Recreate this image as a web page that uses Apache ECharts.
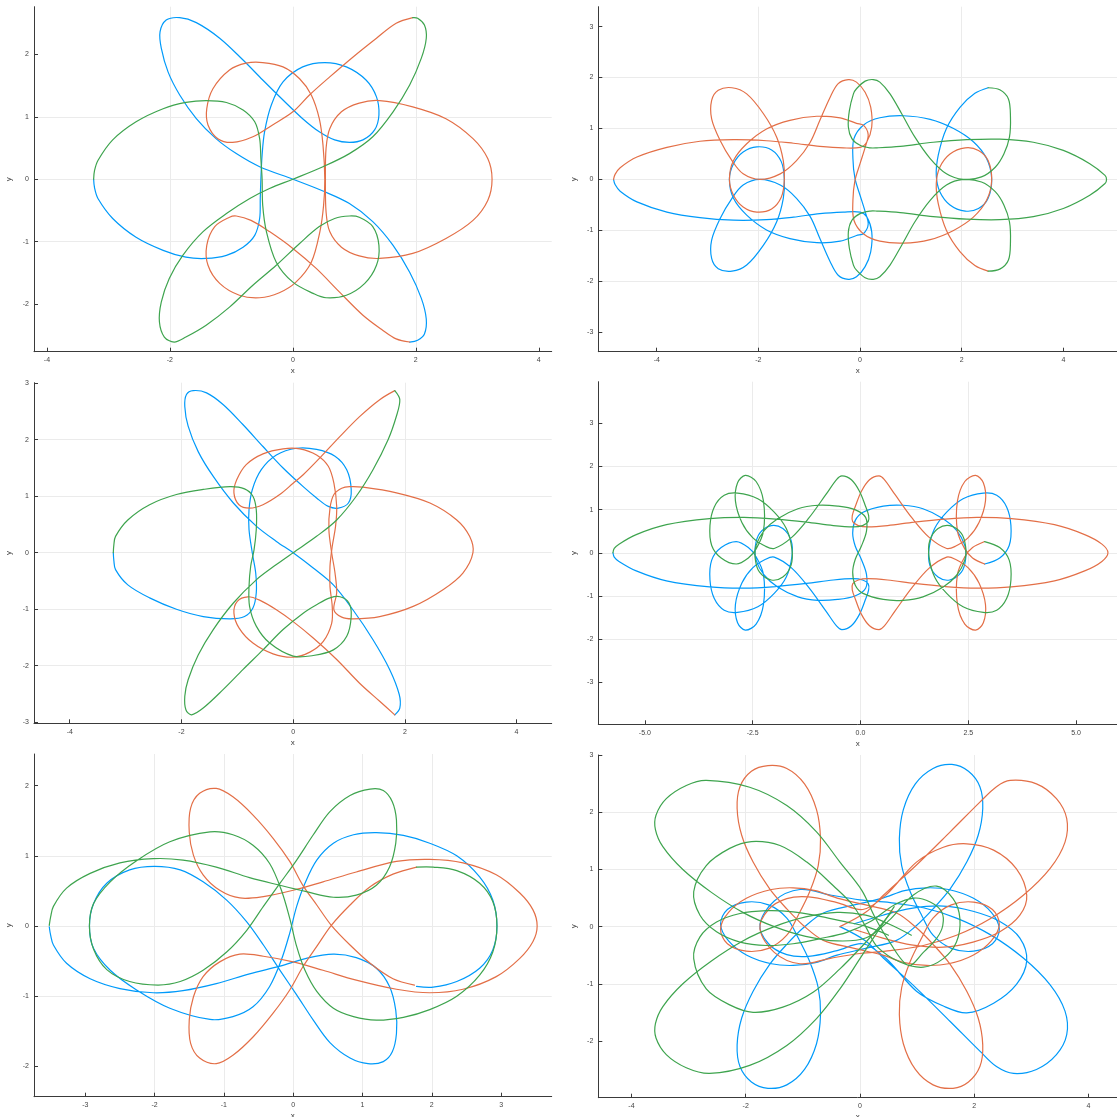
<!DOCTYPE html>
<html>
<head>
<meta charset="utf-8">
<title>Three-body orbits</title>
<script src="https://cdn.jsdelivr.net/npm/echarts@6/dist/echarts.min.js"></script>
<style>
  html, body { margin: 0; padding: 0; background: #ffffff; }
  #chart { width: 1117px; height: 1117px; }
</style>
</head>
<body>
<div id="chart"></div>
<script>
// ---------- orbit samples (x, y) per body, panel by panel ----------

// Panel 1
const p1Blue = [[-3.24,0],[-3.225,-0.14],[-3.17,-0.31],[-2.93,-0.63],[-2.55,-0.93],[-2.11,-1.14],[-1.74,-1.25],[-1.41,-1.27],[-1.08,-1.22],[-0.81,-1.09],[-0.62,-0.9],[-0.54,-0.63],[-0.53,-0.31],[-0.52,0],[-0.5,0.39],[-0.46,0.76],[-0.35,1.19],[-0.16,1.56],[0.16,1.8],[0.52,1.87],[0.87,1.8],[1.19,1.59],[1.36,1.32],[1.4,1.03],[1.33,0.79],[1.14,0.63],[0.92,0.59],[0.68,0.63],[0.43,0.76],[0.16,0.97],[-0.16,1.27],[-0.49,1.59],[-0.81,1.91],[-1.19,2.26],[-1.57,2.51],[-1.84,2.59],[-2.06,2.55],[-2.16,2.36],[-2.14,2.1],[-2.03,1.72],[-1.84,1.35],[-1.57,0.97],[-1.25,0.65],[-0.92,0.41],[-0.54,0.2],[0,0],[0.49,-0.19],[0.92,-0.39],[1.3,-0.68],[1.63,-1.06],[1.9,-1.49],[2.09,-1.91],[2.17,-2.24],[2.14,-2.48],[2.03,-2.58],[1.9,-2.61]];
const p1Red = [[1.95,2.59],[1.68,2.5],[1.36,2.26],[0.98,1.96],[0.6,1.64],[0.27,1.35],[0,1.08],[-0.33,0.87],[-0.65,0.68],[-0.98,0.59],[-1.22,0.65],[-1.38,0.87],[-1.4,1.13],[-1.3,1.45],[-1.03,1.75],[-0.76,1.86],[-0.49,1.87],[-0.16,1.8],[0.11,1.61],[0.3,1.35],[0.43,0.97],[0.49,0.55],[0.52,0],[0.5,-0.42],[0.44,-0.84],[0.3,-1.33],[0.05,-1.65],[-0.22,-1.82],[-0.54,-1.9],[-0.87,-1.86],[-1.19,-1.67],[-1.38,-1.38],[-1.4,-1.06],[-1.27,-0.76],[-1.03,-0.61],[-0.92,-0.59],[-0.68,-0.66],[-0.38,-0.84],[0,-1.11],[0.38,-1.43],[0.76,-1.81],[1.14,-2.18],[1.46,-2.42],[1.68,-2.56],[1.9,-2.61]];
const p1RedLobe = [[1.41,1.26],[1.95,1.16],[2.49,0.97],[2.93,0.65],[3.17,0.33],[3.24,0],[3.17,-0.34],[2.93,-0.66],[2.49,-0.95],[1.95,-1.19],[1.41,-1.27],[1.08,-1.23],[0.79,-1.09],[0.6,-0.84],[0.54,-0.52],[0.53,0],[0.54,0.49],[0.6,0.81],[0.79,1.08],[1.08,1.22],[1.41,1.26]];
const p1Green = [[-3.24,0],[-3.225,0.14],[-3.17,0.3],[-2.93,0.63],[-2.55,0.92],[-2.11,1.13],[-1.74,1.23],[-1.41,1.26],[-1.08,1.23],[-0.81,1.11],[-0.62,0.92],[-0.54,0.65],[-0.52,0.33],[-0.5,0],[-0.49,-0.42],[-0.43,-0.84],[-0.27,-1.33],[0,-1.65],[0.33,-1.83],[0.54,-1.9],[0.87,-1.86],[1.17,-1.67],[1.36,-1.38],[1.4,-1.06],[1.3,-0.76],[1.08,-0.61],[0.92,-0.59],[0.68,-0.63],[0.43,-0.76],[0.11,-1.03],[-0.27,-1.38],[-0.65,-1.7],[-1.03,-2.05],[-1.41,-2.34],[-1.74,-2.53],[-1.93,-2.61],[-2.09,-2.53],[-2.17,-2.29],[-2.14,-1.97],[-2.01,-1.59],[-1.79,-1.22],[-1.46,-0.84],[-1.08,-0.55],[-0.7,-0.31],[-0.38,-0.15],[0,0],[0.49,0.2],[0.92,0.41],[1.3,0.68],[1.63,1.08],[1.9,1.51],[2.09,1.94],[2.17,2.26],[2.14,2.47],[2.03,2.58],[1.95,2.59]];

// Panel 2
const p2Red = [[-4.85,0],[-4.82,0.1],[-4.72,0.23],[-4.39,0.44],[-3.8,0.63],[-3.15,0.75],[-2.49,0.78],[-1.84,0.76],[-1.31,0.71],[-0.79,0.65],[-0.33,0.62],[0,0.63],[0.13,0.73],[0.23,1.03],[0.21,1.42],[0.1,1.71],[-0.07,1.91],[-0.23,1.96],[-0.43,1.88],[-0.59,1.61],[-0.79,1.16],[-0.98,0.73],[-1.25,0.37],[-1.57,0.11],[-1.97,0],[-2.3,0.11],[-2.52,0.37],[-2.75,0.76],[-2.92,1.19],[-2.92,1.55],[-2.79,1.75],[-2.52,1.8],[-2.23,1.68],[-1.9,1.29],[-1.64,0.83],[-1.51,0.37],[-1.49,-0.02],[-1.55,-0.35],[-1.74,-0.58],[-2.03,-0.64],[-2.3,-0.54],[-2.49,-0.31],[-2.57,0],[-2.49,0.37],[-2.23,0.7],[-1.84,0.99],[-1.38,1.16],[-0.85,1.24],[-0.39,1.21],[-0.07,1.1],[0.07,1.06],[0.16,0.88],[0.1,0.63],[0,0.31],[-0.1,-0.02],[-0.14,-0.41],[-0.12,-0.8],[0.07,-1.07],[0.39,-1.21],[0.85,-1.25],[1.38,-1.18],[1.84,-1.0],[2.23,-0.74],[2.49,-0.41],[2.59,-0.02],[2.52,0.37],[2.33,0.57],[2.07,0.62],[1.77,0.5],[1.57,0.24],[1.5,-0.08],[1.54,-0.48],[1.7,-1.0],[1.97,-1.42],[2.26,-1.69],[2.52,-1.8]];
const p2Blue = [[-4.85,0],[-4.82,-0.1],[-4.72,-0.23],[-4.39,-0.44],[-3.8,-0.64],[-3.15,-0.75],[-2.49,-0.8],[-1.84,-0.79],[-1.31,-0.74],[-0.79,-0.67],[-0.33,-0.64],[0,-0.64],[0.13,-0.73],[0.23,-1.03],[0.21,-1.42],[0.1,-1.71],[-0.07,-1.91],[-0.23,-1.96],[-0.43,-1.88],[-0.59,-1.61],[-0.79,-1.16],[-0.98,-0.73],[-1.25,-0.37],[-1.57,-0.11],[-1.97,0],[-2.3,-0.11],[-2.52,-0.37],[-2.75,-0.76],[-2.92,-1.19],[-2.92,-1.55],[-2.79,-1.75],[-2.52,-1.8],[-2.23,-1.68],[-1.9,-1.29],[-1.64,-0.83],[-1.51,-0.37],[-1.49,0.02],[-1.55,0.35],[-1.74,0.58],[-2.03,0.64],[-2.3,0.54],[-2.49,0.31],[-2.57,0],[-2.49,-0.37],[-2.23,-0.7],[-1.84,-0.99],[-1.38,-1.16],[-0.85,-1.24],[-0.39,-1.21],[-0.07,-1.1],[0.07,-1.06],[0.16,-0.88],[0.1,-0.63],[0,-0.31],[-0.1,0.02],[-0.14,0.41],[-0.12,0.8],[0.07,1.07],[0.39,1.21],[0.85,1.25],[1.38,1.18],[1.84,1.0],[2.23,0.74],[2.49,0.41],[2.59,0.02],[2.52,-0.37],[2.33,-0.57],[2.07,-0.62],[1.77,-0.5],[1.57,-0.24],[1.5,0.08],[1.54,0.48],[1.7,1.0],[1.97,1.42],[2.26,1.69],[2.52,1.8]];
const p2Green = [[2.52,1.8],[2.75,1.76],[2.92,1.58],[2.96,1.22],[2.94,0.83],[2.83,0.5],[2.66,0.24],[2.39,0.05],[2.03,0],[1.7,0.11],[1.38,0.41],[1.08,0.83],[0.82,1.29],[0.59,1.68],[0.39,1.91],[0.26,1.96],[0.1,1.93],[-0.07,1.78],[-0.13,1.68],[-0.21,1.35],[-0.23,1.03],[-0.16,0.8],[0,0.67],[0.2,0.62],[0.33,0.62],[0.79,0.65],[1.44,0.73],[2.1,0.78],[2.75,0.79],[3.41,0.73],[4.0,0.57],[4.52,0.31],[4.82,0.08],[4.85,0],[4.82,-0.08],[4.52,-0.31],[4.0,-0.57],[3.41,-0.73],[2.75,-0.79],[2.1,-0.78],[1.44,-0.73],[0.79,-0.65],[0.33,-0.62],[0.2,-0.62],[0,-0.67],[-0.16,-0.8],[-0.23,-1.03],[-0.21,-1.35],[-0.13,-1.68],[-0.07,-1.78],[0.1,-1.93],[0.26,-1.96],[0.39,-1.91],[0.59,-1.68],[0.82,-1.29],[1.08,-0.83],[1.38,-0.41],[1.7,-0.11],[2.03,0],[2.39,-0.05],[2.66,-0.24],[2.83,-0.5],[2.94,-0.83],[2.96,-1.22],[2.92,-1.58],[2.75,-1.76],[2.52,-1.8]];

// Panel 3
const p3Blue = [[-3.22,0],[-3.21,-0.14],[-3.18,-0.3],[-2.96,-0.57],[-2.57,-0.8],[-2.09,-1.0],[-1.61,-1.13],[-1.13,-1.17],[-0.87,-1.13],[-0.72,-0.98],[-0.66,-0.71],[-0.67,-0.36],[-0.73,-0.01],[-0.79,0.41],[-0.79,0.76],[-0.73,1.12],[-0.57,1.47],[-0.3,1.73],[0.06,1.85],[0.42,1.83],[0.75,1.71],[0.96,1.47],[1.04,1.12],[0.99,0.88],[0.81,0.79],[0.63,0.82],[0.42,0.97],[0.18,1.17],[-0.18,1.5],[-0.54,1.88],[-0.9,2.27],[-1.25,2.62],[-1.55,2.83],[-1.79,2.87],[-1.91,2.8],[-1.94,2.59],[-1.88,2.24],[-1.7,1.79],[-1.43,1.35],[-1.07,0.88],[-0.66,0.47],[-0.3,0.2],[0,0],[0.36,-0.27],[0.72,-0.57],[1.07,-1.01],[1.43,-1.54],[1.73,-2.07],[1.9,-2.51],[1.91,-2.75],[1.82,-2.87]];
const p3Red = [[1.82,2.87],[1.55,2.71],[1.19,2.41],[0.84,2.06],[0.48,1.68],[0.18,1.38],[0,1.23],[-0.24,1.03],[-0.54,0.85],[-0.78,0.79],[-0.97,0.85],[-1.06,1.06],[-1.01,1.29],[-0.84,1.56],[-0.54,1.75],[-0.18,1.84],[0.12,1.84],[0.42,1.73],[0.63,1.53],[0.73,1.23],[0.78,0.82],[0.76,0.47],[0.7,0.11],[0.66,-0.24],[0.66,-0.6],[0.7,-0.95],[0.69,-1.25],[0.54,-1.57],[0.3,-1.76],[0,-1.85],[-0.36,-1.79],[-0.72,-1.6],[-0.97,-1.33],[-1.06,-1.07],[-1.0,-0.86],[-0.81,-0.78],[-0.6,-0.84],[-0.3,-1.01],[0,-1.22],[0.36,-1.51],[0.78,-1.89],[1.19,-2.31],[1.55,-2.63],[1.82,-2.87]];
const p3RedLobe = [[3.22,0],[3.16,0.29],[2.93,0.58],[2.45,0.88],[1.85,1.06],[1.25,1.16],[1.01,1.17],[0.87,1.14],[0.73,1.03],[0.66,0.79],[0.64,0.41],[0.69,0],[0.75,-0.36],[0.78,-0.71],[0.73,-1.01],[0.87,-1.14],[1.07,-1.17],[1.55,-1.13],[2.15,-0.95],[2.69,-0.65],[3.04,-0.36],[3.22,0]];
const p3Green = [[-3.22,0],[-3.21,0.14],[-3.18,0.29],[-2.96,0.58],[-2.57,0.85],[-2.09,1.03],[-1.61,1.12],[-1.13,1.17],[-0.87,1.13],[-0.72,1.0],[-0.66,0.76],[-0.66,0.41],[-0.7,0.05],[-0.76,-0.24],[-0.79,-0.6],[-0.78,-0.95],[-0.66,-1.3],[-0.42,-1.6],[0,-1.83],[0.36,-1.82],[0.72,-1.72],[0.96,-1.48],[1.04,-1.13],[1.0,-0.89],[0.84,-0.78],[0.66,-0.8],[0.42,-0.92],[0.18,-1.07],[-0.18,-1.36],[-0.54,-1.72],[-0.9,-2.07],[-1.25,-2.42],[-1.61,-2.75],[-1.82,-2.87],[-1.92,-2.78],[-1.94,-2.54],[-1.88,-2.25],[-1.7,-1.81],[-1.43,-1.36],[-1.07,-0.89],[-0.66,-0.48],[-0.3,-0.21],[0,0],[0.42,0.29],[0.78,0.58],[1.13,1.0],[1.43,1.47],[1.7,2.0],[1.85,2.42],[1.91,2.71],[1.82,2.87]];

// Panel 4
const p4Blue = [[-5.74,0],[-5.71,-0.1],[-5.6,-0.2],[-5.2,-0.42],[-4.5,-0.65],[-3.5,-0.79],[-2.7,-0.82],[-1.95,-0.78],[-1.25,-0.71],[-0.63,-0.63],[-0.17,-0.6],[0.05,-0.63],[0.18,-0.72],[0.19,-0.86],[0.12,-1.07],[-0.02,-1.42],[-0.21,-1.69],[-0.43,-1.78],[-0.55,-1.7],[-0.8,-1.35],[-1.2,-0.8],[-1.6,-0.35],[-2.0,-0.1],[-2.2,-0.15],[-2.5,-0.35],[-2.75,-0.7],[-2.9,-1.2],[-2.85,-1.62],[-2.67,-1.79],[-2.42,-1.65],[-2.25,-1.2],[-2.25,-0.5],[-2.42,-0.09],[-2.6,0.12],[-2.88,0.26],[-3.23,0.12],[-3.45,-0.17],[-3.49,-0.63],[-3.39,-1.06],[-3.16,-1.33],[-2.85,-1.38],[-2.38,-1.25],[-2.0,-0.94],[-1.72,-0.56],[-1.59,-0.09],[-1.61,0.29],[-1.8,0.56],[-2.07,0.63],[-2.34,0.45],[-2.44,0.14],[-2.42,-0.17],[-2.23,-0.52],[-1.92,-0.79],[-1.45,-1.02],[-0.99,-1.1],[-0.53,-1.08],[-0.13,-1.0],[0.12,-0.82],[0.14,-0.5],[0.02,-0.15],[-0.12,0.15],[-0.18,0.45],[-0.12,0.75],[0.06,0.94],[0.53,1.08],[0.99,1.1],[1.45,1.02],[1.92,0.79],[2.23,0.52],[2.42,0.17],[2.44,-0.14],[2.34,-0.45],[2.07,-0.63],[1.8,-0.56],[1.61,-0.29],[1.59,0.09],[1.72,0.56],[2.0,0.94],[2.38,1.25],[2.85,1.38],[3.16,1.33],[3.39,1.06],[3.49,0.63],[3.45,0.17],[3.23,-0.12],[2.88,-0.26]];
const p4Red = [[2.88,-0.26],[2.6,-0.12],[2.42,0.09],[2.25,0.5],[2.25,1.2],[2.42,1.65],[2.67,1.79],[2.85,1.62],[2.9,1.2],[2.75,0.7],[2.5,0.35],[2.2,0.15],[2.0,0.1],[1.6,0.35],[1.2,0.8],[0.8,1.35],[0.55,1.7],[0.43,1.78],[0.21,1.69],[0.02,1.42],[-0.12,1.07],[-0.19,0.86],[-0.18,0.72],[-0.05,0.63],[0.17,0.6],[0.63,0.63],[1.25,0.71],[1.95,0.78],[2.7,0.82],[3.5,0.79],[4.5,0.65],[5.2,0.42],[5.6,0.2],[5.74,0],[5.6,-0.2],[5.2,-0.42],[4.5,-0.65],[3.5,-0.79],[2.7,-0.82],[1.95,-0.78],[1.25,-0.71],[0.63,-0.63],[0.17,-0.6],[-0.05,-0.63],[-0.18,-0.72],[-0.19,-0.86],[-0.12,-1.07],[0.02,-1.42],[0.21,-1.69],[0.43,-1.78],[0.55,-1.7],[0.8,-1.35],[1.2,-0.8],[1.6,-0.35],[2.0,-0.1],[2.2,-0.15],[2.5,-0.35],[2.75,-0.7],[2.9,-1.2],[2.85,-1.62],[2.67,-1.79],[2.42,-1.65],[2.25,-1.2],[2.25,-0.5],[2.42,-0.09],[2.6,0.12],[2.88,0.26]];
const p4Green = [[-5.74,0],[-5.71,0.1],[-5.6,0.2],[-5.2,0.42],[-4.5,0.65],[-3.5,0.79],[-2.7,0.82],[-1.95,0.78],[-1.25,0.71],[-0.63,0.63],[-0.17,0.6],[0.05,0.63],[0.18,0.72],[0.19,0.86],[0.12,1.07],[-0.02,1.42],[-0.21,1.69],[-0.43,1.78],[-0.55,1.7],[-0.8,1.35],[-1.2,0.8],[-1.6,0.35],[-2.0,0.1],[-2.2,0.15],[-2.5,0.35],[-2.75,0.7],[-2.9,1.2],[-2.85,1.62],[-2.67,1.79],[-2.42,1.65],[-2.25,1.2],[-2.25,0.5],[-2.42,0.09],[-2.6,-0.12],[-2.88,-0.26],[-3.23,-0.12],[-3.45,0.17],[-3.49,0.63],[-3.39,1.06],[-3.16,1.33],[-2.85,1.38],[-2.38,1.25],[-2.0,0.94],[-1.72,0.56],[-1.59,0.09],[-1.61,-0.29],[-1.8,-0.56],[-2.07,-0.63],[-2.34,-0.45],[-2.44,-0.14],[-2.42,0.17],[-2.23,0.52],[-1.92,0.79],[-1.45,1.02],[-0.99,1.1],[-0.53,1.08],[-0.13,1.0],[0.12,0.82],[0.14,0.5],[0.02,0.15],[-0.12,-0.15],[-0.18,-0.45],[-0.12,-0.75],[0.06,-0.94],[0.53,-1.08],[0.99,-1.1],[1.45,-1.02],[1.92,-0.79],[2.23,-0.52],[2.42,-0.17],[2.44,0.14],[2.34,0.45],[2.07,0.63],[1.8,0.56],[1.61,0.29],[1.59,-0.09],[1.72,-0.56],[2.0,-0.94],[2.38,-1.25],[2.85,-1.38],[3.16,-1.33],[3.39,-1.06],[3.49,-0.63],[3.45,-0.17],[3.23,0.12],[2.88,0.26]];

// Panel 5
const p5Blue = [[-3.52,-0.01],[-3.5,-0.13],[-3.46,-0.27],[-3.27,-0.53],[-2.93,-0.75],[-2.5,-0.89],[-2.02,-0.95],[-1.59,-0.92],[-1.11,-0.82],[-0.63,-0.68],[-0.19,-0.57],[0.19,-0.46],[0.58,-0.4],[0.91,-0.45],[1.2,-0.6],[1.39,-0.86],[1.48,-1.2],[1.49,-1.53],[1.43,-1.79],[1.3,-1.93],[1.08,-1.96],[0.82,-1.88],[0.53,-1.66],[0.29,-1.34],[0.05,-0.98],[-0.19,-0.63],[-0.43,-0.27],[-0.67,0.06],[-0.96,0.37],[-1.3,0.63],[-1.63,0.8],[-2.0,0.85],[-2.36,0.8],[-2.69,0.61],[-2.88,0.32],[-2.94,0],[-2.88,-0.32],[-2.64,-0.63],[-2.26,-0.91],[-1.78,-1.17],[-1.2,-1.33],[-0.87,-1.29],[-0.58,-1.15],[-0.34,-0.86],[-0.17,-0.48],[-0.05,-0.1],[0.05,0.28],[0.17,0.61],[0.34,0.94],[0.58,1.18],[0.87,1.3],[1.2,1.33],[1.59,1.29],[1.97,1.18],[2.36,1.0],[2.69,0.7],[2.88,0.37],[2.94,0],[2.88,-0.34],[2.69,-0.6],[2.36,-0.79],[2.02,-0.87],[1.78,-0.86]];
const p5Red = [[1.78,0.84],[1.44,0.74],[1.11,0.56],[0.82,0.3],[0.55,0.01],[0.34,-0.29],[0.14,-0.58],[-0.05,-0.91],[-0.29,-1.24],[-0.58,-1.58],[-0.87,-1.84],[-1.11,-1.96],[-1.35,-1.88],[-1.48,-1.67],[-1.5,-1.34],[-1.44,-1.01],[-1.3,-0.72],[-1.06,-0.51],[-0.77,-0.4],[-0.43,-0.43],[0,-0.51],[0.43,-0.63],[0.91,-0.77],[1.49,-0.9],[1.97,-0.95],[2.45,-0.9],[2.93,-0.72],[3.27,-0.46],[3.46,-0.22],[3.52,0],[3.46,0.23],[3.27,0.47],[2.93,0.73],[2.45,0.9],[1.97,0.95],[1.49,0.92],[0.91,0.77],[0.43,0.63],[0,0.51],[-0.43,0.42],[-0.77,0.4],[-1.06,0.51],[-1.3,0.73],[-1.44,1.01],[-1.5,1.34],[-1.48,1.68],[-1.35,1.89],[-1.11,1.96],[-0.87,1.84],[-0.58,1.58],[-0.29,1.25],[-0.05,0.92],[0.14,0.58],[0.34,0.3],[0.55,0.01],[0.82,-0.27],[1.11,-0.53],[1.44,-0.75],[1.75,-0.84]];
const p5Green = [[-3.52,0.01],[-3.5,0.13],[-3.46,0.28],[-3.27,0.54],[-2.93,0.75],[-2.5,0.9],[-2.02,0.96],[-1.59,0.94],[-1.11,0.84],[-0.63,0.69],[-0.19,0.58],[0.19,0.49],[0.58,0.41],[0.91,0.44],[1.2,0.58],[1.39,0.84],[1.48,1.18],[1.49,1.51],[1.43,1.77],[1.3,1.93],[1.11,1.95],[0.82,1.86],[0.53,1.63],[0.29,1.3],[0.05,0.94],[-0.19,0.61],[-0.43,0.28],[-0.67,-0.06],[-0.96,-0.37],[-1.3,-0.63],[-1.63,-0.79],[-1.95,-0.84],[-2.36,-0.79],[-2.69,-0.62],[-2.88,-0.33],[-2.94,0],[-2.88,0.32],[-2.64,0.63],[-2.26,0.93],[-1.78,1.2],[-1.2,1.34],[-0.87,1.3],[-0.58,1.15],[-0.34,0.89],[-0.17,0.51],[-0.05,0.11],[0.05,-0.29],[0.17,-0.63],[0.34,-0.93],[0.58,-1.17],[0.87,-1.29],[1.2,-1.34],[1.59,-1.3],[1.97,-1.19],[2.36,-1.0],[2.69,-0.7],[2.88,-0.37],[2.94,0],[2.88,0.35],[2.69,0.61],[2.36,0.79],[2.02,0.84],[1.78,0.84]];

// Panel 6
const p6BlueTall = [[0.99,0.02],[1.28,0.31],[1.58,0.66],[1.87,1.13],[2.07,1.6],[2.15,2.07],[2.1,2.45],[1.9,2.72],[1.61,2.84],[1.28,2.77],[0.97,2.5],[0.76,2.05],[0.69,1.54],[0.73,1.07],[0.88,0.61],[1.08,0.2],[1.28,-0.15],[1.6,-0.38],[1.99,-0.43],[2.32,-0.3],[2.44,-0.04],[2.3,0.25],[1.98,0.5],[1.55,0.65],[1.17,0.68],[0.78,0.63],[0.4,0.5],[-0.1,0.38],[-0.64,0.24],[-0.99,-0.02],[-1.28,-0.31],[-1.58,-0.66],[-1.87,-1.13],[-2.07,-1.6],[-2.15,-2.07],[-2.1,-2.45],[-1.9,-2.72],[-1.61,-2.83],[-1.28,-2.77],[-0.97,-2.5],[-0.76,-2.05],[-0.69,-1.54],[-0.73,-1.07],[-0.88,-0.61],[-1.08,-0.2],[-1.28,0.15],[-1.6,0.38],[-1.99,0.43],[-2.32,0.3],[-2.44,0.04],[-2.3,-0.25],[-1.98,-0.5],[-1.55,-0.65],[-1.17,-0.68],[-0.78,-0.63],[-0.4,-0.5],[0.1,-0.38],[0.64,-0.24],[0.99,0.02]];
const p6BlueWide = [[-0.35,0.0],[0.1,-0.25],[0.41,-0.55],[0.99,-1.08],[1.58,-1.66],[2.1,-2.18],[2.39,-2.45],[2.69,-2.57],[3.09,-2.5],[3.44,-2.24],[3.62,-1.89],[3.59,-1.48],[3.33,-1.02],[2.86,-0.55],[2.28,-0.14],[1.69,0.15],[1.11,0.33],[0.53,0.42],[0,0.47],[-0.5,0.55],[-1.05,0.65],[-1.5,0.45],[-1.75,0.04],[-1.6,-0.3],[-1.28,-0.49],[-0.9,-0.52],[-0.4,-0.42],[0.05,-0.3],[0.45,-0.55],[0.99,-1.13],[1.46,-1.39],[1.87,-1.51],[2.34,-1.34],[2.74,-1.01],[2.92,-0.6],[2.8,-0.2],[2.45,0.09],[1.98,0.27],[1.46,0.36],[0.9,0.32],[0.4,0.2],[-0.1,0.05]];
const p6RedTall = [[-0.99,0.02],[-1.28,0.31],[-1.58,0.66],[-1.87,1.13],[-2.07,1.6],[-2.15,2.07],[-2.1,2.45],[-1.9,2.72],[-1.61,2.82],[-1.28,2.77],[-0.97,2.5],[-0.76,2.05],[-0.69,1.54],[-0.73,1.07],[-0.88,0.61],[-1.08,0.2],[-1.28,-0.15],[-1.6,-0.38],[-1.99,-0.43],[-2.32,-0.3],[-2.44,-0.04],[-2.3,0.25],[-1.98,0.5],[-1.55,0.65],[-1.17,0.68],[-0.78,0.63],[-0.4,0.5],[0.1,0.38],[0.64,0.24],[0.99,-0.02],[1.28,-0.31],[1.58,-0.66],[1.87,-1.13],[2.07,-1.6],[2.15,-2.07],[2.1,-2.45],[1.9,-2.72],[1.63,-2.83],[1.28,-2.77],[0.97,-2.5],[0.76,-2.05],[0.69,-1.54],[0.73,-1.07],[0.88,-0.61],[1.08,-0.2],[1.28,0.15],[1.6,0.38],[1.99,0.43],[2.32,0.3],[2.44,0.04],[2.3,-0.25],[1.98,-0.5],[1.55,-0.65],[1.17,-0.68],[0.78,-0.63],[0.4,-0.5],[-0.1,-0.38],[-0.64,-0.24],[-0.99,0.02]];
const p6RedWide = [[-0.35,0.0],[0.1,0.25],[0.41,0.55],[0.99,1.08],[1.58,1.66],[2.1,2.18],[2.39,2.45],[2.63,2.56],[3.09,2.5],[3.44,2.24],[3.62,1.89],[3.59,1.48],[3.33,1.02],[2.86,0.55],[2.28,0.14],[1.69,-0.15],[1.11,-0.33],[0.53,-0.42],[0,-0.47],[-0.5,-0.55],[-1.05,-0.65],[-1.5,-0.45],[-1.75,-0.04],[-1.6,0.3],[-1.28,0.49],[-0.9,0.52],[-0.4,0.42],[0.05,0.3],[0.45,0.55],[0.99,1.13],[1.46,1.39],[1.87,1.45],[2.34,1.34],[2.74,1.01],[2.92,0.55],[2.8,0.2],[2.45,-0.09],[1.98,-0.27],[1.46,-0.36],[0.9,-0.32],[0.4,-0.2],[-0.1,-0.05]];
const p6GreenUpper = [[0.85,-0.68],[0.5,-0.24],[0.26,0.17],[0.03,0.64],[-0.35,1.13],[-0.76,1.66],[-1.28,2.12],[-1.93,2.44],[-2.69,2.56],[-3.04,2.47],[-3.39,2.24],[-3.57,1.95],[-3.58,1.7],[-3.45,1.4],[-3.1,1.0],[-2.6,0.6],[-2.05,0.25],[-1.5,0.0],[-0.95,-0.17],[-0.4,-0.25],[0.1,-0.2],[0.5,0.1],[0.93,0.55],[1.34,0.71],[1.63,0.49],[1.75,0.14],[1.69,-0.27],[1.46,-0.56],[1.11,-0.71],[0.7,-0.62],[0.3,-0.35],[0.1,0.0],[-0.12,0.37],[-0.47,0.72],[-0.93,1.13],[-1.4,1.42],[-1.9,1.49],[-2.28,1.37],[-2.69,1.07],[-2.91,0.61],[-2.8,0.2],[-2.51,-0.09],[-2.1,-0.27],[-1.63,-0.33],[-1.17,-0.3],[-0.7,-0.21],[-0.23,-0.1],[0.2,0.1],[0.6,0.38],[0.95,0.5],[1.23,0.43],[1.43,0.26],[1.45,0.02],[1.34,-0.21],[1.11,-0.45],[0.85,-0.68]];
const p6GreenLower = [[0.9,-0.15],[0.5,0.05],[0.1,0.2],[-0.4,0.25],[-0.95,0.17],[-1.5,0.0],[-2.05,-0.25],[-2.6,-0.6],[-3.1,-1.0],[-3.45,-1.4],[-3.58,-1.7],[-3.57,-1.95],[-3.39,-2.24],[-3.04,-2.47],[-2.63,-2.57],[-1.93,-2.43],[-1.28,-2.08],[-0.76,-1.61],[-0.35,-1.09],[0,-0.56],[0.3,-0.1],[0.6,0.35]];
const p6GreenMidLow = [[0.55,0.25],[0.3,-0.05],[0.05,-0.33],[-0.35,-0.74],[-0.82,-1.15],[-1.35,-1.41],[-1.87,-1.5],[-2.28,-1.37],[-2.69,-1.09],[-2.91,-0.56],[-2.8,-0.18],[-2.51,0.08],[-2.1,0.23],[-1.63,0.28],[-1.17,0.26],[-0.7,0.18],[-0.23,0.08],[0.12,0],[0.5,-0.15]];

// ---------- tick labels ----------
const p1XTicks = [-4, -2, 0, 2, 4];
const p1YTicks = [-2, -1, 0, 1, 2];
const p2XTicks = [-4, -2, 0, 2, 4];
const p2YTicks = [-3, -2, -1, 0, 1, 2, 3];
const p3XTicks = [-4, -2, 0, 2, 4];
const p3YTicks = [-3, -2, -1, 0, 1, 2, 3];
const p4XTicks = [-5, -2.5, 0, 2.5, 5];
const p4YTicks = [-3, -2, -1, 0, 1, 2, 3];
const p5XTicks = [-3, -2, -1, 0, 1, 2, 3];
const p5YTicks = [-2, -1, 0, 1, 2];
const p6XTicks = [-4, -2, 0, 2, 4];
const p6YTicks = [-2, -1, 0, 1, 2, 3];

// ---------- styling and layout ----------
const FONT = 'Liberation Sans, DejaVu Sans, Arial, sans-serif';
const COLORS = { blue: '#009AFA', red: '#E36F47', green: '#3EA44E' };
const AXIS_COLOR = '#3a3a3a';
const GRID_COLOR = '#ebebeb';
const LINE_WIDTH = 1.2;

const panels = [
  { rect: [34, 6.7, 517.7, 345], xRange: [-4.21, 4.21], yRange: [-2.765, 2.765],
    xTicks: p1XTicks, yTicks: p1YTicks, xDigits: 0,
    lines: [['blue', p1Blue], ['red', p1Red], ['red', p1RedLobe], ['green', p1Green]] },
  { rect: [598.3, 6.7, 518.7, 345], xRange: [-5.15, 5.056], yRange: [-3.38, 3.39],
    xTicks: p2XTicks, yTicks: p2YTicks, xDigits: 0,
    lines: [['blue', p2Blue], ['red', p2Red], ['green', p2Green]] },
  { rect: [34, 382.7, 517.7, 340.6], xRange: [-4.64, 4.63], yRange: [-3.02, 3.01],
    xTicks: p3XTicks, yTicks: p3YTicks, xDigits: 0,
    lines: [['blue', p3Blue], ['red', p3Red], ['red', p3RedLobe], ['green', p3Green]] },
  { rect: [598.3, 381.7, 518.7, 342.6], xRange: [-6.08, 5.95], yRange: [-3.97, 3.96],
    xTicks: p4XTicks, yTicks: p4YTicks, xDigits: 1,
    lines: [['blue', p4Blue], ['red', p4Red], ['green', p4Green]] },
  { rect: [34, 754, 517.7, 342.7], xRange: [-3.74, 3.73], yRange: [-2.43, 2.45],
    xTicks: p5XTicks, yTicks: p5YTicks, xDigits: 0,
    lines: [['blue', p5Blue], ['red', p5Red], ['green', p5Green]] },
  { rect: [598.3, 755, 518.7, 342.7], xRange: [-4.58, 4.50], yRange: [-2.995, 3.005],
    xTicks: p6XTicks, yTicks: p6YTicks, xDigits: 0,
    lines: [['blue', p6BlueTall], ['blue', p6BlueWide],
            ['red', p6RedTall], ['red', p6RedWide],
            ['green', p6GreenUpper], ['green', p6GreenLower], ['green', p6GreenMidLow]] }
];

function tickText(v, ticks, digits) {
  const hit = ticks.some(t => Math.abs(t - v) < 1e-6);
  if (!hit) return '';
  return digits ? v.toFixed(digits) : String(Math.round(v));
}

function makeAxis(kind, idx, range, ticks, digits) {
  const step = ticks[1] - ticks[0];
  return {
    type: 'value',
    gridIndex: idx,
    min: range[0],
    max: range[1],
    minInterval: step,
    maxInterval: step,
    splitNumber: Math.round((range[1] - range[0]) / step),
    name: kind,
    nameLocation: 'middle',
    nameGap: kind === 'x' ? 15 : 21,
    nameTextStyle: { fontSize: 8, color: AXIS_COLOR, fontFamily: FONT },
    axisLine: { show: true, onZero: false, lineStyle: { color: AXIS_COLOR, width: 1 } },
    axisTick: { show: true, inside: true, length: 4, customValues: ticks,
                lineStyle: { color: AXIS_COLOR, width: 1 } },
    axisLabel: { show: true, fontSize: 7, color: '#444', fontFamily: FONT, margin: 5,
                 customValues: ticks, hideOverlap: false,
                 formatter: v => tickText(v, ticks, kind === 'x' ? digits : 0) },
    splitLine: { show: true, showMinLine: false, showMaxLine: false,
                 lineStyle: { color: GRID_COLOR, width: 1 } }
  };
}

// Smooth path through the projected samples (cardinal spline, Catmull-Rom weighting).
function curvePath(P, closed) {
  const n = P.length, k = 1 / 3;
  const cin = new Array(n), cout = new Array(n);
  for (let i = 0; i < n; i++) {
    let a, b;
    if (i === 0) { a = closed ? P[n - 2] : null; b = P[1]; }
    else if (i === n - 1) { a = P[n - 2]; b = closed ? P[1] : null; }
    else { a = P[i - 1]; b = P[i + 1]; }
    const p = P[i];
    if (!a || !b) { cin[i] = p; cout[i] = p; continue; }
    const d0 = Math.hypot(p[0] - a[0], p[1] - a[1]);
    const d1 = Math.hypot(b[0] - p[0], b[1] - p[1]);
    const t = (d0 + d1) || 1;
    const vx = b[0] - a[0], vy = b[1] - a[1];
    cin[i] = [p[0] - vx * k * d0 / t, p[1] - vy * k * d0 / t];
    cout[i] = [p[0] + vx * k * d1 / t, p[1] + vy * k * d1 / t];
  }
  let d = 'M' + P[0][0].toFixed(2) + ' ' + P[0][1].toFixed(2);
  for (let i = 0; i < n - 1; i++) {
    const c1 = cout[i], c2 = cin[i + 1], q = P[i + 1];
    d += ' C' + c1[0].toFixed(2) + ' ' + c1[1].toFixed(2) + ' ' +
         c2[0].toFixed(2) + ' ' + c2[1].toFixed(2) + ' ' +
         q[0].toFixed(2) + ' ' + q[1].toFixed(2);
  }
  return d;
}

function orbitSeries(idx, color, pts) {
  const closed = pts.length > 2 && pts[0][0] === pts[pts.length - 1][0] &&
                 pts[0][1] === pts[pts.length - 1][1];
  return {
    type: 'custom',
    coordinateSystem: 'cartesian2d',
    xAxisIndex: idx,
    yAxisIndex: idx,
    data: pts,
    encode: { x: 0, y: 1 },
    clip: true,
    silent: true,
    animation: false,
    renderItem: (params, api) => {
      if (params.dataIndex !== 0) return null;
      const projected = pts.map(p => api.coord(p));
      return {
        type: 'path',
        shape: { pathData: curvePath(projected, closed) },
        style: { fill: 'none', stroke: COLORS[color], lineWidth: LINE_WIDTH,
                 lineJoin: 'round', lineCap: 'round' }
      };
    }
  };
}

const grid = [], xAxis = [], yAxis = [], series = [];
panels.forEach((p, i) => {
  grid.push({ left: p.rect[0], top: p.rect[1], width: p.rect[2], height: p.rect[3],
              containLabel: false, outerBoundsMode: 'none' });
  xAxis.push(makeAxis('x', i, p.xRange, p.xTicks, p.xDigits));
  yAxis.push(makeAxis('y', i, p.yRange, p.yTicks, 0));
  p.lines.forEach(([c, pts]) => series.push(orbitSeries(i, c, pts)));
});

const chart = echarts.init(document.getElementById('chart'), null, { renderer: 'canvas' });
chart.setOption({
  backgroundColor: '#ffffff',
  animation: false,
  textStyle: { fontFamily: FONT },
  grid, xAxis, yAxis, series
});
</script>
</body>
</html>
